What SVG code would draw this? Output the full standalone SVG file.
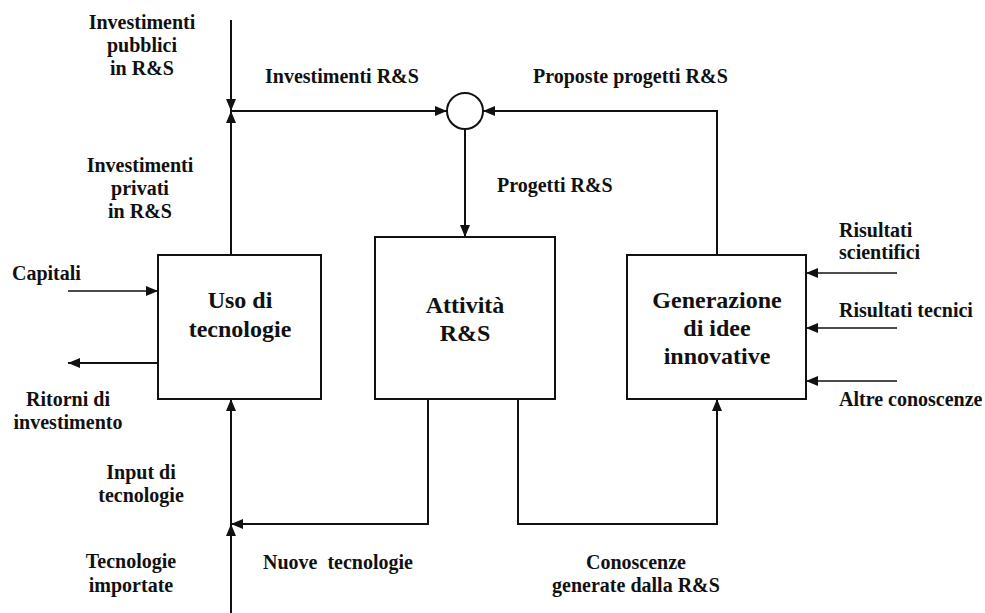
<svg xmlns="http://www.w3.org/2000/svg" width="985" height="613" viewBox="0 0 985 613">
<style>
text{font-family:'Liberation Serif','Times New Roman','DejaVu Serif',serif;font-weight:bold;fill:#111;}
.l{font-size:20px;}
.b{font-size:24px;}
.m{text-anchor:middle;}
.box{fill:#fff;stroke:#111;stroke-width:2;}
.c{fill:none;stroke:#111;stroke-width:2;}
.t{fill:none;stroke:#111;stroke-width:1.5;}
</style>
<defs>
<marker id="a" viewBox="0 0 12 10" refX="12" refY="5" markerWidth="12" markerHeight="10" markerUnits="userSpaceOnUse" orient="auto">
<path d="M0,0 L12,5 L0,10 Z" fill="#111"/>
</marker>
</defs>
<g id="connectors">
<line class="c" x1="231" y1="20" x2="231" y2="111" marker-end="url(#a)"/>
<line class="c" x1="231" y1="255" x2="231" y2="111" marker-end="url(#a)"/>
<line class="c" x1="231" y1="111" x2="447" y2="111" marker-end="url(#a)"/>
<polyline class="c" points="717,255 717,111 483,111" marker-end="url(#a)"/>
<line class="c" x1="465" y1="129" x2="465" y2="237" marker-end="url(#a)"/>
<line class="t" x1="68" y1="291" x2="158" y2="291" marker-end="url(#a)"/>
<line class="c" x1="158" y1="363" x2="68" y2="363" marker-end="url(#a)"/>
<line class="c" x1="231" y1="613" x2="231" y2="524" marker-end="url(#a)"/>
<line class="c" x1="231" y1="524" x2="231" y2="399" marker-end="url(#a)"/>
<polyline class="c" points="428,399 428,524 231,524" marker-end="url(#a)"/>
<polyline class="c" points="518,399 518,524 717,524 717,399" marker-end="url(#a)"/>
<line class="t" x1="897" y1="273" x2="806" y2="273" marker-end="url(#a)"/>
<line class="t" x1="897" y1="328" x2="806" y2="328" marker-end="url(#a)"/>
<line class="t" x1="897" y1="381" x2="806" y2="381" marker-end="url(#a)"/>
</g>
<g id="sum">
<circle cx="465" cy="111" r="18" class="box"/>
</g>
<g id="uso">
<rect class="box" x="158" y="255" width="163" height="144"/>
<text class="b m" x="240" y="308">Uso di</text>
<text class="b m" x="240" y="337">tecnologie</text>
</g>
<g id="attivita">
<rect class="box" x="375" y="237" width="180" height="162"/>
<text class="b m" x="465" y="313">Attività</text>
<text class="b m" x="465" y="341">R&amp;S</text>
</g>
<g id="generazione">
<rect class="box" x="627" y="255" width="179" height="144"/>
<text class="b m" x="717" y="308">Generazione</text>
<text class="b m" x="717" y="336">di idee</text>
<text class="b m" x="717" y="364">innovative</text>
</g>
<g id="labels">
<text class="l m" x="142" y="29">Investimenti</text>
<text class="l m" x="142" y="52">pubblici</text>
<text class="l m" x="142" y="75">in R&amp;S</text>
<text class="l" x="265" y="83">Investimenti R&amp;S</text>
<text class="l" x="533" y="83">Proposte progetti R&amp;S</text>
<text class="l" x="497" y="192">Progetti R&amp;S</text>
<text class="l m" x="140" y="172">Investimenti</text>
<text class="l m" x="140" y="195">privati</text>
<text class="l m" x="140" y="218">in R&amp;S</text>
<text class="l" x="12" y="280">Capitali</text>
<text class="l m" x="68" y="406">Ritorni di</text>
<text class="l m" x="68" y="429">investimento</text>
<text class="l m" x="141" y="479">Input di</text>
<text class="l m" x="141" y="502">tecnologie</text>
<text class="l m" x="131" y="568">Tecnologie</text>
<text class="l m" x="131" y="592">importate</text>
<text class="l" x="263" y="569" xml:space="preserve">Nuove  tecnologie</text>
<text class="l m" x="636" y="569">Conoscenze</text>
<text class="l m" x="636" y="592">generate dalla R&amp;S</text>
<text class="l" x="839" y="237">Risultati</text>
<text class="l" x="839" y="259">scientifici</text>
<text class="l" x="839" y="317">Risultati tecnici</text>
<text class="l" x="839" y="406">Altre conoscenze</text>
</g>
</svg>
